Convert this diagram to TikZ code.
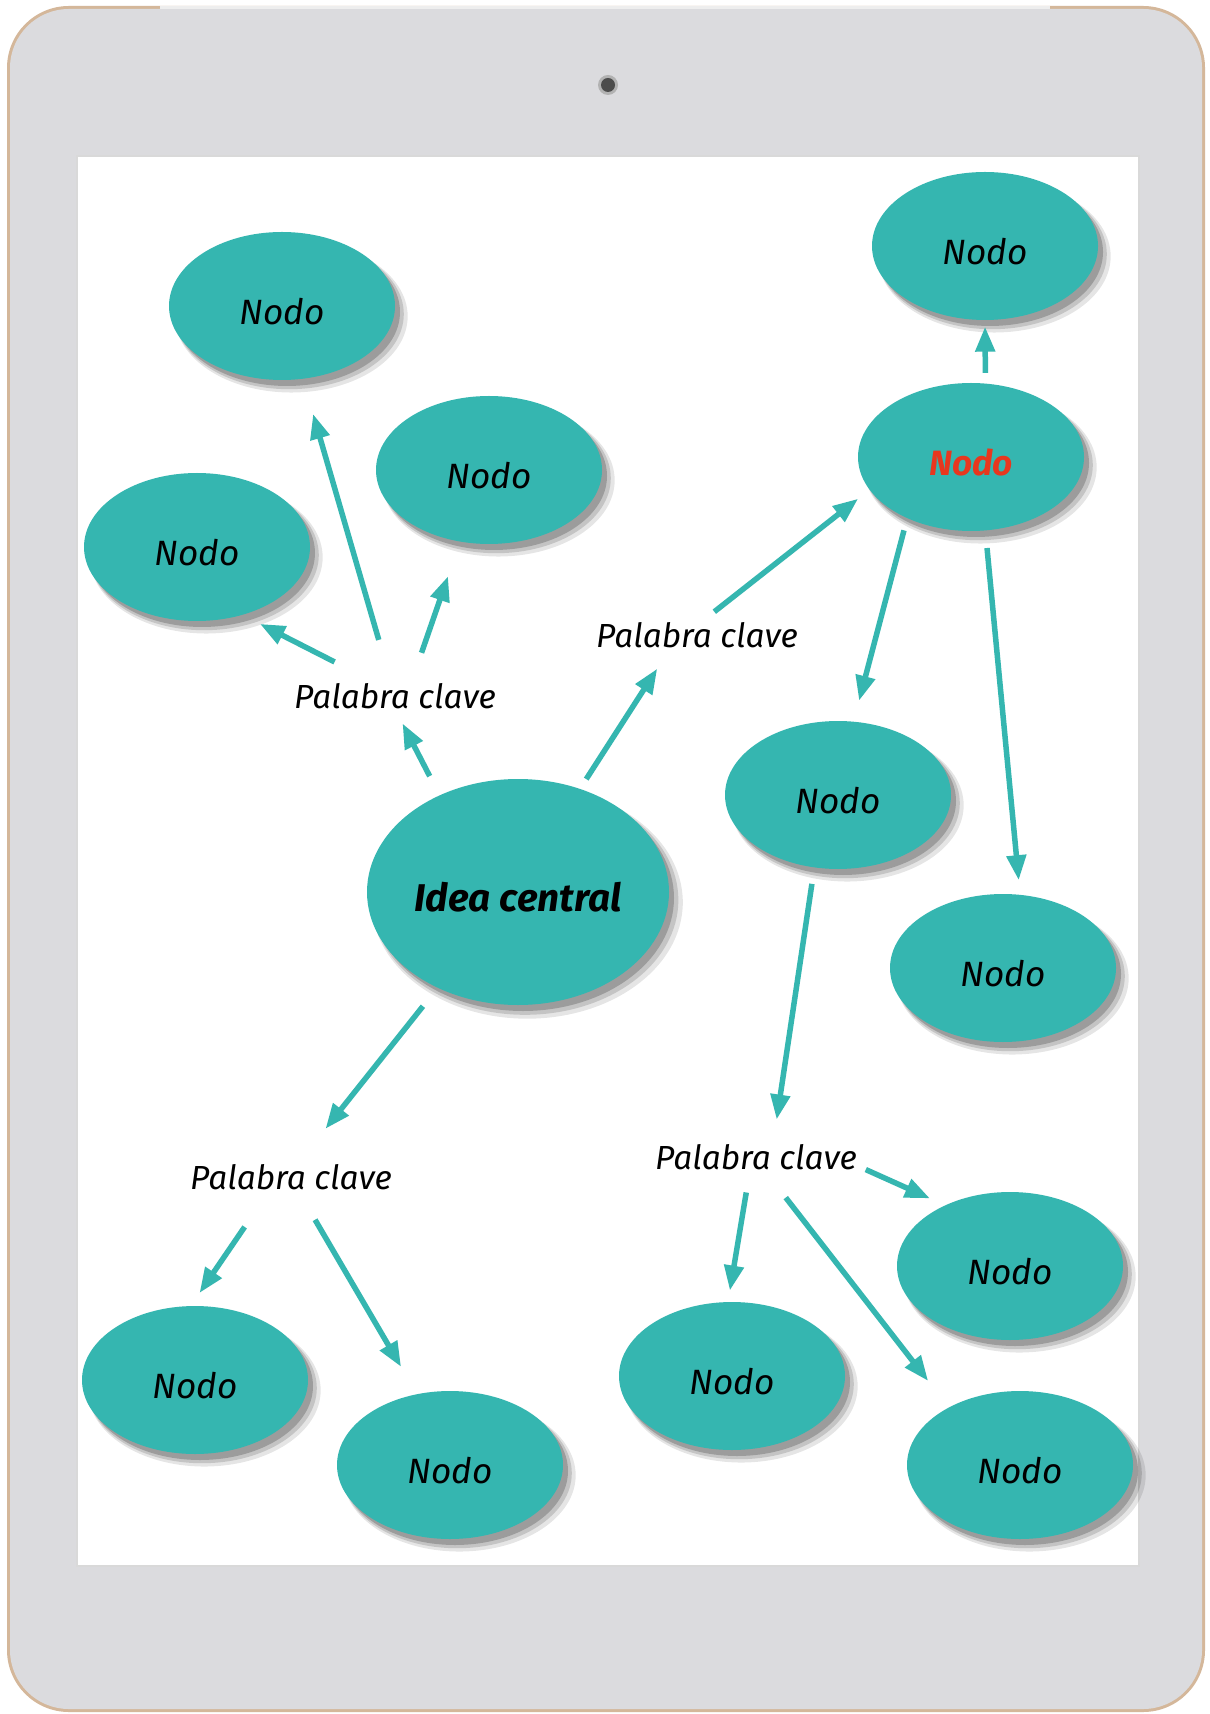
\documentclass[tikz,border=0pt]{standalone}
\usepackage{fontspec}
\setmainfont{Fira Sans}
\usetikzlibrary{arrows.meta, shapes.geometric, shadows}
\definecolor{nodoteal}{RGB}{53,182,176}
\definecolor{nodorojo}{RGB}{232,55,30}
\definecolor{framegray}{RGB}{219,219,222}
\definecolor{framegold}{RGB}{212,183,154}
\definecolor{frametop}{RGB}{238,238,238}

\begin{document}
\begin{tikzpicture}[
        x=0.1mm, y=-0.1mm,
        nodo/.style={ellipse, fill=nodoteal, minimum width=22.6mm,
                     minimum height=14.8mm, inner sep=0pt, text height=3.7mm,
                     font=\fontsize{10}{12}\selectfont\itshape,
                     drop shadow={shadow xshift=0.9mm, shadow yshift=-1mm,
                                  opacity=0.1, fill=black, shadow scale=1.03},
                     drop shadow={shadow xshift=0.7mm, shadow yshift=-0.8mm,
                                  opacity=0.14, fill=black, shadow scale=1.015},
                     drop shadow={shadow xshift=0.5mm, shadow yshift=-0.6mm,
                                  opacity=0.2, fill=black}},
        idea/.style={nodo, minimum width=30.2mm, minimum height=22.6mm,
                     text height=4mm,
                     font=\fontsize{11}{13}\selectfont\bfseries\itshape},
        clave/.style={rectangle, inner sep=0pt, minimum width=19.6mm,
                      minimum height=3.4mm,
                      font=\fontsize{9.5}{11}\selectfont\itshape},
        flecha/.style={-{Triangle[length=2.5mm, width=1.9mm]},
                       draw=nodoteal, line width=0.55mm}
    ]

    %% TABLET FRAME
    \fill[white] (0,0) rectangle (1209,1714);
    \useasboundingbox (0,0) rectangle (1209,1714);
    \fill[framegold, rounded corners=6.2mm] (7,6) rectangle (1205,1712);
    \fill[framegray, rounded corners=5.9mm] (10,9) rectangle (1202,1709);
    \draw[frametop, line width=0.3mm] (160,8) -- (1050,8);
    \fill[white, draw=gray!30, line width=0.2mm] (77,156) rectangle (1139,1566);
    \fill[gray!60] (608,85) circle (1mm);
    \fill[black!70] (608,85) circle (0.7mm);

    %% NODES
    \node[idea] (idea) at (518,892) {Idea central};

    \node[clave] (pcNO) at (395,696) {Palabra clave};
    \node[clave] (pcNE) at (697,635) {Palabra clave};
    \node[clave] (pcSO) at (291,1177) {Palabra clave};
    \node[clave] (pcSE) at (756,1157) {Palabra clave};

    \node[nodo] (nodo1) at (282,306) {Nodo};
    \node[nodo] (nodo2) at (489,470) {Nodo};
    \node[nodo] (nodo3) at (197,547) {Nodo};
    \node[nodo] (nodo4) at (985,246) {Nodo};
    \node[nodo, font=\fontsize{10}{12}\selectfont\bfseries\itshape,
          text=nodorojo] (nodorojo) at (971,457) {Nodo};
    \node[nodo] (nodo6) at (838,795) {Nodo};
    \node[nodo] (nodo7) at (1003,968) {Nodo};
    \node[nodo] (nodo9) at (195,1380) {Nodo};
    \node[nodo] (nodo10) at (450,1465) {Nodo};
    \node[nodo] (nodo11) at (732,1376) {Nodo};
    \node[nodo] (nodo12) at (1010,1266) {Nodo};
    \node[nodo] (nodo13) at (1020,1465) {Nodo};

    %% CONNECTORS, upper left
    \draw[flecha, shorten <=2.1mm, shorten >=1.1mm] (idea.129.2) -- (pcNO.278.1);
    \draw[flecha, shorten <=3.6mm, shorten >=1.9mm] (pcNO.148.6) -- (nodo3.304.9);
    \draw[flecha, shorten <=4mm, shorten >=3.6mm] (pcNO.106.2) -- (nodo1.286.7);
    \draw[flecha, shorten <=2.7mm, shorten >=3.6mm] (pcNO.45) -- (nodo2.248.7);

    %% CONNECTORS, right
    \draw[flecha, shorten <=1.1mm, shorten >=1.9mm] (idea.59.3) -- (pcNE.211.5);
    \draw[flecha, shorten <=0.9mm, shorten >=1.4mm] (pcNE.60.8) -- (nodorojo.198.4);
    \draw[flecha, shorten <=1mm, shorten >=0.6mm] (nodorojo.79.8) -- (nodo4.270.7);
    \draw[flecha, shorten <=1.2mm, shorten >=2.1mm] (nodorojo.224.6) -- (nodo6.78);
    \draw[flecha, shorten <=1.7mm, shorten >=1.4mm] (nodorojo.281.3) -- (nodo7.77.7);
    \draw[flecha, shorten <=1.6mm, shorten >=2mm] (nodo6.252.9) -- (pcSE.45);

    %% CONNECTORS, lower
    \draw[flecha, shorten <=2.3mm, shorten >=3.9mm] (idea.230.5) -- (pcSO.60.4);
    \draw[flecha, shorten <=3.9mm, shorten >=1.5mm] (pcSO.216.5) -- (nodo9.93.2);
    \draw[flecha, shorten <=2.9mm, shorten >=3.1mm] (pcSO.298.7) -- (nodo10.115.4);
    \draw[flecha, shorten <=0.9mm, shorten >=1.6mm] (pcSE.355.3) -- (nodo12.137.7);
    \draw[flecha, shorten <=1.8mm, shorten >=1.1mm] (pcSE.249.1) -- (nodo11.93.4);
    \draw[flecha, shorten <=2.9mm, shorten >=3.3mm] (pcSE.304.3) -- (nodo13.141.2);

\end{tikzpicture}
\end{document}
